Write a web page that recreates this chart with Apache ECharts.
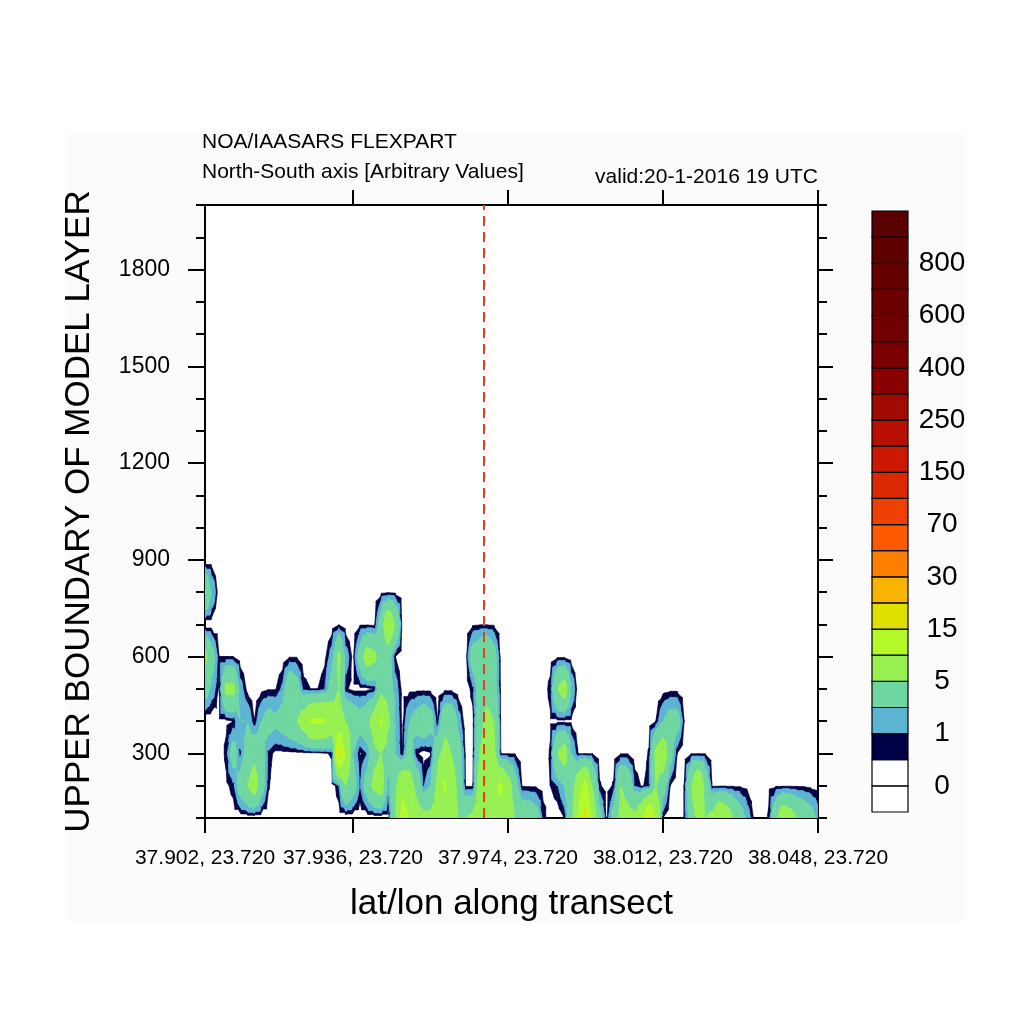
<!DOCTYPE html>
<html>
<head>
<meta charset="utf-8">
<script src="https://cdn.jsdelivr.net/npm/echarts@6.0.0/dist/echarts.min.js"></script>
<style>html,body{margin:0;padding:0;background:#ffffff}#chart{width:1024px;height:1024px}</style>
</head>
<body>
<div id="chart"></div>
<script>
// ---------------- data ----------------
const heights = [100,200,300,400,500,600,700,800,900,1000,1100,1200,1300,1400,1500,1600,1700,1800,1900,2000];
const xTickIndex = [0, 21, 43, 65, 87];
const xTickLabels = ['37.902, 23.720','37.936, 23.720','37.974, 23.720','38.012, 23.720','38.048, 23.720'];
const yTickValues = [300, 600, 900, 1200, 1500, 1800];
const transectMarker = 39.6;

// contour levels (lower bound of each coloured band) and colours
const contourLevels = [0.5,1,2,5,10,15,20,30,50,70,100,150,200,250,300,400,500,600,700,800,900];
const contourColors = ['#000046','#5ab4d2','#6ed6a0','#96f050','#b4fa28','#e0e000','#f8b400','#ff8000','#ff5a00',
  '#ee4000','#dc2800','#cc1800','#b81000','#a00a00','#880000','#7a0000','#700000','#6a0000','#640000','#5f0000','#5a0000'];
// label bar: boundaries and box colours (bottom to top)
const barBoundaries = [0,0.5,1,2,5,10,15,20,30,50,70,100,150,200,250,300,400,500,600,700,800,900];
const barColors = ['#ffffff','#ffffff'].concat(contourColors);
const barLabelPositions = [1,3,5,7,9,11,13,15,17,19,21];

// concentration per model layer (88 points along transect)
const conc100 = [0,0,0,0,0,0,0,0,0,0, 0,0,0,0,0,0,0,0,0,0, 0,0,0,0,0,0,0,5,12,10,
  7,6,6,6,7,6,5,5,6,7, 8,8,8,7,5,4,4,3,0.8,0, 0,0.5,4,10,17,8,3,0.3,3,6,
  6,6,9,16,10,0.5,0,0,0.5,3, 6,5,6,10,8,5,3,1.5,0.3,0, 0.6,4,8,7,5,4,3,1.5];
const conc200 = [0,0,0,0.3,0.8,3,5,7,3,0.6, 0,0,0,0,0,0,0,0,0,1, 5,3,1,3,6,7,1.5,4,9,7,
  4,1,2,6,11,7,4,0.4,0.4,7, 8,9,11,7,3,0.45,0.4,0.4,0.2,0.5, 1,2,3,8,12,5,0.6,0.2,0.6,5,
  4,1,0.4,0.8,5,3,0.5,0,0.5,5, 10,4,0.4,0.4,0.4,0.4,0.4,0.3,0,0, 0.3,0.4,0.4,0.4,0.4,0.4,0.3,0.2];
const conc300 = [0,0,0,0.7,3,0.8,3,4,3,0.8, 0.3,0.3,0.3,0.3,0.3,0.3,0.3,0.4,0.6,17, 10,2,0.4,1,4,5,3,2,0.5,3,
  0.6,0.2,0.4,4,6,5,3,0.3,0.2,5, 6,6,0.45,0.45,0.45,0,0,0,0,0.6, 5,7,2,0.45,0.45,0.45,0,0,0,0.45,
  0.45,0,0,0.6,6,8,3,0.5,0,0.45, 0.45,0.45,0,0,0,0,0,0,0,0, 0,0,0,0,0,0,0,0];
const conc400 = [0,0,0.3,0.3,0.5,2,2,0.5,2,3, 2.5,3,4,5,7,10.5,11,10.5,8,7, 5,4,3,4,7,11,6,2,0.3,2,
  3,4,3,0.5,4,4,1.5,0,0.2,4, 6,5,0.3,0,0,0,0,0,0,0.3, 0.3,0.3,0.3,0,0,0,0,0,0,0,
  0,0,0,0,0.5,2,3,3,0.5,0, 0,0,0,0,0,0,0,0,0,0, 0,0,0,0,0,0,0,0];
const conc500 = [3,1.5,0.4,6,6,1.5,0.3,0,0.3,0.45, 0.45,1.2,4,3,0.8,0.5,0.5,1,3,5, 0.6,0.3,0.3,0.3,0.5,4,3,1.5,0.3,0.3,
  0.3,0.3,0.3,0,0.3,0.3,0,0,0.8,3, 4,3,0.3,0,0,0,0,0,0,0.8, 5,7,2,0,0,0,0,0,0,0,
  0,0,0,0,0,0.2,0.3,0.3,0,0, 0,0,0,0,0,0,0,0,0,0, 0,0,0,0,0,0,0,0];
const conc600 = [6,3,0.5,0.5,0.5,0,0,0,0,0, 0,0,0.45,0.45,0,0,0,0.3,1.5,6, 1.5,0.3,3,7,6,3,3,0.5,0,0,
  0,0,0,0,0,0,0,0.2,3,4, 5,3,0.2,0,0,0,0,0,0,0, 0.35,0.35,0,0,0,0,0,0,0,0,
  0,0,0,0,0,0,0,0,0,0, 0,0,0,0,0,0,0,0,0,0, 0,0,0,0,0,0,0,0];
const conc700 = [0,0,0,0,0,0,0,0,0,0, 0,0,0,0,0,0,0,0,0,0.45, 0,0,0.4,0.4,0.3,3,9,5,0.3,0,
  0,0,0,0,0,0,0,0,0.4,0.45, 0.45,0.4,0,0,0,0,0,0,0,0, 0,0,0,0,0,0,0,0,0,0,
  0,0,0,0,0,0,0,0,0,0, 0,0,0,0,0,0,0,0,0,0, 0,0,0,0,0,0,0,0];
const conc800 = [5,2,0,0,0,0,0,0,0,0, 0,0,0,0,0,0,0,0,0,0, 0,0,0,0,0,0.3,0.4,0.3,0,0,
  0,0,0,0,0,0,0,0,0,0, 0,0,0,0,0,0,0,0,0,0, 0,0,0,0,0,0,0,0,0,0,
  0,0,0,0,0,0,0,0,0,0, 0,0,0,0,0,0,0,0,0,0, 0,0,0,0,0,0,0,0];
const concRows = [conc100, conc200, conc300, conc400, conc500, conc600, conc700, conc800];

// ---------------- rendering ----------------
const FONT = "'Liberation Sans', Arial, Helvetica, sans-serif";
const nCols = conc100.length;
function val(j, i) { const r = concRows[j]; return r ? r[i] : 0; }

const cellData = [];
for (let j = 0; j < concRows.length; j++) {
  for (let i = 0; i < nCols - 1; i++) cellData.push([i, heights[j], j]);
}

function clipPoly(poly, f) {
  const out = [];
  for (let n = 0; n < poly.length; n++) {
    const P = poly[n], Q = poly[(n + 1) % poly.length];
    const fp = f(P[2]), fq = f(Q[2]);
    if (fp >= 0) out.push(P);
    if ((fp >= 0) !== (fq >= 0)) {
      const t = fp / (fp - fq);
      out.push([P[0] + t * (Q[0] - P[0]), P[1] + t * (Q[1] - P[1]), P[2] + t * (Q[2] - P[2])]);
    }
  }
  return out;
}

function renderCell(params, api) {
  const i = api.value(0), j = api.value(2);
  const a = val(j, i), b = val(j, i + 1), c = val(j + 1, i + 1), d = val(j + 1, i);
  if (Math.max(a, b, c, d) < contourLevels[0]) return null;
  const p0 = api.coord([i, heights[j]]), p1 = api.coord([i + 1, heights[j]]);
  const p2 = api.coord([i + 1, heights[j + 1]]), p3 = api.coord([i, heights[j + 1]]);
  const V = [[p0[0], p0[1], a], [p1[0], p1[1], b], [p2[0], p2[1], c], [p3[0], p3[1], d]];
  const C = [(p0[0] + p1[0]) / 2, (p0[1] + p3[1]) / 2, (a + b + c + d) / 4];
  const children = [];
  for (let t = 0; t < 4; t++) {
    const tri = [V[t], V[(t + 1) % 4], C];
    const tmin = Math.min(tri[0][2], tri[1][2], tri[2][2]);
    const tmax = Math.max(tri[0][2], tri[1][2], tri[2][2]);
    for (let k = 0; k < contourLevels.length; k++) {
      const lo = contourLevels[k];
      const hi = k + 1 < contourLevels.length ? contourLevels[k + 1] : Infinity;
      if (tmax < lo || tmin >= hi) continue;
      let poly = clipPoly(tri, v => v - lo);
      if (hi !== Infinity && poly.length >= 3) poly = clipPoly(poly, v => hi - v);
      if (poly.length < 3) continue;
      children.push({
        type: 'polygon', silent: true,
        shape: { points: poly.map(p => [p[0], p[1]]) },
        style: { fill: contourColors[k], stroke: contourColors[k], lineWidth: 0.6 }
      });
    }
  }
  return { type: 'group', children: children };
}

function renderBarBox(params, api) {
  const k = api.value(1);
  const lo = api.coord([0, k]), hi = api.coord([1, k + 1]);
  return {
    type: 'rect',
    shape: { x: lo[0], y: hi[1], width: hi[0] - lo[0], height: lo[1] - hi[1] },
    style: { fill: barColors[k], stroke: '#000000', lineWidth: 1.2 }
  };
}

const axisLineStyle = { color: '#000000', width: 2 };
const tickLineStyle = { color: '#000000', width: 2 };

const option = {
  animation: false,
  backgroundColor: '#ffffff',
  graphic: [{
    type: 'rect', z: -10, silent: true,
    shape: { x: 67, y: 133, width: 898, height: 788 },
    style: { fill: '#fbfbfb' }
  }],
  title: [
    { text: 'NOA/IAASARS FLEXPART', left: 202, top: 132, padding: 0,
      textStyle: { fontSize: 21, fontWeight: 'normal', color: '#000', fontFamily: FONT } },
    { text: 'North-South axis [Arbitrary Values]', left: 202, top: 162, padding: 0,
      textStyle: { fontSize: 21, fontWeight: 'normal', color: '#000', fontFamily: FONT } },
    { text: 'valid:20-1-2016 19 UTC', right: 206, top: 167, padding: 0,
      textStyle: { fontSize: 21, fontWeight: 'normal', color: '#000', fontFamily: FONT } }
  ],
  grid: [
    { left: 205, top: 205, width: 613, height: 613, show: true, backgroundColor: '#ffffff', borderWidth: 0 },
    { left: 872, top: 211, width: 36, height: 601 }
  ],
  xAxis: [
    { gridIndex: 0, type: 'value', min: 0, max: nCols - 1, position: 'bottom',
      axisLine: { show: true, onZero: false, lineStyle: axisLineStyle },
      axisTick: { show: true, customValues: xTickIndex, length: 15, lineStyle: tickLineStyle },
      axisLabel: { customValues: xTickIndex, formatter: v => xTickLabels[xTickIndex.indexOf(v)],
        fontSize: 21, color: '#000', margin: 30, fontFamily: FONT },
      splitLine: { show: false },
      name: 'lat/lon along transect', nameLocation: 'middle', nameGap: 69,
      nameTextStyle: { fontSize: 35, color: '#000', fontFamily: FONT } },
    { gridIndex: 0, type: 'value', min: 0, max: nCols - 1, position: 'top',
      axisLine: { show: true, onZero: false, lineStyle: axisLineStyle },
      axisTick: { show: true, customValues: xTickIndex.slice(1), length: 15, lineStyle: tickLineStyle },
      axisLabel: { show: false }, splitLine: { show: false } },
    { gridIndex: 1, type: 'value', min: 0, max: 1, show: false }
  ],
  yAxis: [
    { gridIndex: 0, type: 'value', min: 100, max: 2000, interval: 100, position: 'left',
      axisLine: { show: true, onZero: false, lineStyle: axisLineStyle },
      axisTick: { show: true, length: 9, lineStyle: tickLineStyle },
      axisLabel: { show: false }, splitLine: { show: false } },
    { gridIndex: 0, type: 'value', min: 100, max: 2000, position: 'left',
      axisLine: { show: true, onZero: false, lineStyle: axisLineStyle },
      axisTick: { show: true, customValues: yTickValues, length: 17, lineStyle: tickLineStyle },
      axisLabel: { customValues: yTickValues, formatter: v => String(v), fontSize: 23, color: '#000',
        margin: 35, fontFamily: FONT },
      splitLine: { show: false },
      name: 'UPPER BOUNDARY OF MODEL LAYER', nameLocation: 'middle', nameGap: 108, nameRotate: 90,
      nameTextStyle: { fontSize: 35, color: '#000', fontFamily: FONT } },
    { gridIndex: 0, type: 'value', min: 100, max: 2000, interval: 100, position: 'right',
      axisLine: { show: true, onZero: false, lineStyle: axisLineStyle },
      axisTick: { show: true, length: 9, lineStyle: tickLineStyle },
      axisLabel: { show: false }, splitLine: { show: false } },
    { gridIndex: 0, type: 'value', min: 100, max: 2000, position: 'right',
      axisLine: { show: true, onZero: false, lineStyle: axisLineStyle },
      axisTick: { show: true, customValues: yTickValues, length: 15, lineStyle: tickLineStyle },
      axisLabel: { show: false }, splitLine: { show: false } },
    { gridIndex: 1, type: 'value', min: 0, max: barColors.length, position: 'right',
      axisLine: { show: false }, axisTick: { show: false }, splitLine: { show: false },
      axisLabel: { customValues: barLabelPositions, formatter: v => String(barBoundaries[v - 1]),
        fontSize: 28, color: '#000', margin: 34, align: 'center', fontFamily: FONT } }
  ],
  series: [
    { type: 'custom', name: 'concentration', xAxisIndex: 0, yAxisIndex: 0,
      renderItem: renderCell, data: cellData, clip: true, silent: true,
      encode: { x: 0, y: 1 },
      markLine: { silent: true, symbol: ['none', 'none'], label: { show: false },
        lineStyle: { color: '#e2401e', type: [10, 6], width: 2 },
        data: [{ xAxis: transectMarker }] } },
    { type: 'custom', name: 'labelbar', xAxisIndex: 2, yAxisIndex: 4,
      renderItem: renderBarBox, silent: true,
      data: barColors.map((c, k) => [0, k]), encode: { x: 0, y: 1 } }
  ]
};

const chart = echarts.init(document.getElementById('chart'), null, { renderer: 'canvas' });
chart.setOption(option);
</script>
</body>
</html>
